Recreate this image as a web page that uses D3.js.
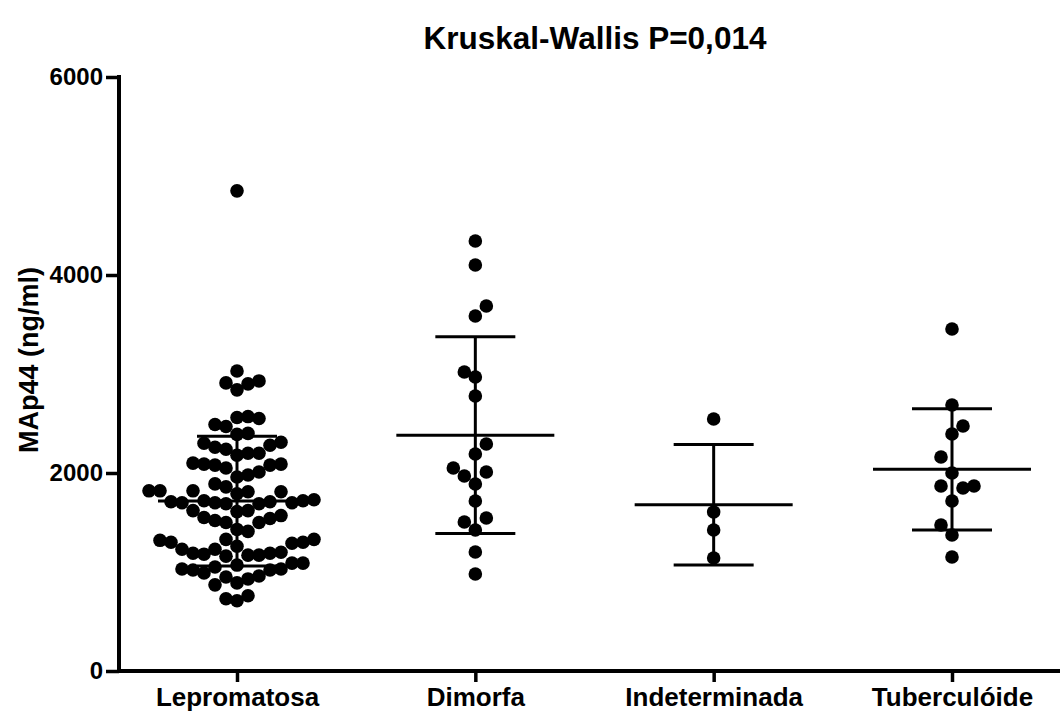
<!DOCTYPE html>
<html>
<head>
<meta charset="utf-8">
<script src="https://cdn.jsdelivr.net/npm/d3@7"></script>
<style>
  body { margin: 0; background: #fff; }
  svg { display: block; }
</style>
</head>
<body>
<svg id="chart" width="1060" height="711"></svg>
<script>
// Groups and MAp44 serum levels (ng/ml)
const categories = ["Lepromatosa", "Dimorfa", "Indeterminada", "Tuberculóide"];

const lepromatosa = [
  4850,
  2930, 2900, 2840, 2910, 3030,
  2560, 2490, 2550, 2570, 2470, 2390, 2400,
  2240, 2200, 2300, 2280, 2310, 2180, 2200, 2260,
  2050, 2100, 2090, 2080, 2080, 2090, 2010, 1980, 1960,
  1890, 1820, 1820, 1860, 1810, 1790, 1810, 1820,
  1730, 1720, 1710, 1700, 1700, 1690, 1690, 1700, 1710, 1720,
  1620, 1570, 1540, 1500, 1430, 1410, 1330, 1330, 1500, 1520, 1550, 1610, 1620,
  1300, 1290, 1230, 1200, 1190, 1170, 1160, 1170, 1180, 1190, 1230, 1260, 1300, 1320,
  1090, 1070, 1030, 1020, 990, 950, 930, 960, 1020, 1030, 1050, 1090,
  890, 870,
  760, 710, 730
];
const dimorfa = [4343, 4101, 3687, 3586, 3020, 2970, 2778, 2293, 2192, 2051, 1970, 2010, 1889, 1717, 1545, 1505, 1424, 1202, 980];
const indeterminada = [2545, 1606, 1424, 1141];
const tuberculoide = [3455, 2687, 2475, 2394, 2162, 2000, 1869, 1848, 1869, 1717, 1475, 1374, 1152];

const yTicks = [0, 2000, 4000, 6000];
const titleText = "Kruskal-Wallis P=0,014";
const yLabel = "MAp44 (ng/ml)";

const groups = categories.map((name, i) => ({
  name,
  values: [lepromatosa, dimorfa, indeterminada, tuberculoide][i]
}));

const W = 1060, H = 711;
const svg = d3.select("#chart");
const FONT = "'Liberation Sans', Arial, Helvetica, sans-serif";

const axisX = 119, axisY = 671;
const y = d3.scaleLinear().domain([0, 6000]).range([axisY, 77]);
const x = d3.scalePoint().domain(categories).range([237, 952]);

const dotR = 6.8;
const hGap = 11;     // horizontal step between neighbouring dots in a row
const vGap = 16.5;   // dots closer than this vertically share a row

// Row-style scatter: sorted ascending, each dot takes the free x offset nearest the centre
function swarm(values) {
  const pts = values.map(v => ({ v, py: y(v) })).sort((a, b) => b.py - a.py);
  const placed = [];
  let flip = 1;
  for (const p of pts) {
    const near = placed.filter(q => Math.abs(q.py - p.py) < vGap);
    const cands = [0];
    for (const q of near) cands.push(q.dx + hGap, q.dx - hGap);
    const ok = cands.filter(c => near.every(q => Math.abs(q.dx - c) >= hGap - 1e-6));
    ok.sort((a, b) => Math.abs(a) - Math.abs(b) || (a - b) * flip);
    p.dx = ok[0];
    if (p.dx !== 0) flip = -flip;
    placed.push(p);
  }
  return placed;
}

// Y axis
const yAxis = d3.axisLeft(y).tickValues(yTicks).tickFormat(d3.format("d"))
  .tickSize(13).tickSizeOuter(0).tickPadding(3);
const gy = svg.append("g").attr("transform", `translate(${axisX},0)`).call(yAxis);
gy.select(".domain").attr("stroke", "#000").attr("stroke-width", 4).attr("d", `M0,${axisY + 2}V${y(6000) - 2}`);
gy.selectAll(".tick line").attr("stroke", "#000").attr("stroke-width", 3.5);
gy.selectAll(".tick text")
  .attr("fill", "#000")
  .style("font-family", FONT).style("font-weight", "bold").style("font-size", "24px");

// X axis
const xAxis = d3.axisBottom(x).tickSize(11).tickSizeOuter(0).tickPadding(6);
const gx = svg.append("g").attr("transform", `translate(0,${axisY})`).call(xAxis);
gx.select(".domain").attr("stroke", "#000").attr("stroke-width", 4).attr("d", `M${axisX - 2},0H${W}`);
gx.selectAll(".tick line").attr("stroke", "#000").attr("stroke-width", 3.5);
gx.selectAll(".tick text")
  .attr("fill", "#000")
  .style("font-family", FONT).style("font-weight", "bold").style("font-size", "26px");

// Dots and mean ± SD bars
const plot = svg.append("g");
groups.forEach(g => {
  const cx = x(g.name);
  const m = d3.mean(g.values), sd = d3.deviation(g.values);
  const gg = plot.append("g");
  gg.selectAll("circle").data(swarm(g.values)).join("circle")
    .attr("cx", d => cx + d.dx).attr("cy", d => d.py).attr("r", dotR).attr("fill", "#000");
  gg.append("line").attr("x1", cx - 79).attr("x2", cx + 79).attr("y1", y(m)).attr("y2", y(m))
    .attr("stroke", "#000").attr("stroke-width", 3);
  gg.append("line").attr("x1", cx).attr("x2", cx).attr("y1", y(m + sd)).attr("y2", y(m - sd))
    .attr("stroke", "#000").attr("stroke-width", 3);
  [m + sd, m - sd].forEach(v => {
    gg.append("line").attr("x1", cx - 40).attr("x2", cx + 40).attr("y1", y(v)).attr("y2", y(v))
      .attr("stroke", "#000").attr("stroke-width", 3);
  });
});

// Title
svg.append("text").attr("x", 595).attr("y", 49).attr("text-anchor", "middle")
  .style("font-family", FONT).style("font-weight", "bold").style("font-size", "31.5px")
  .attr("fill", "#000").text(titleText);

// Y axis title
svg.append("text").attr("transform", `translate(38,360) rotate(-90)`).attr("text-anchor", "middle")
  .style("font-family", FONT).style("font-weight", "bold").style("font-size", "27px")
  .attr("fill", "#000").text(yLabel);
</script>
</body>
</html>
